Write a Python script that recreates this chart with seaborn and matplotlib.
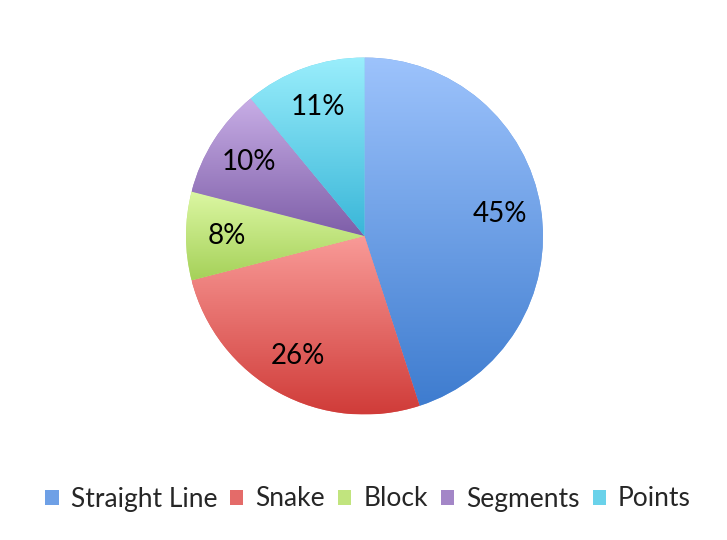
import numpy as np
import matplotlib
matplotlib.use("Agg")
import matplotlib.pyplot as plt
from matplotlib.colors import LinearSegmentedColormap, to_rgb
from matplotlib.patches import Patch
import seaborn as sns

# ---- data ----
labels = ["Straight Line", "Snake", "Block", "Segments", "Points"]
shares = [45, 26, 8, 10, 11]

# light (top) and dark (bottom) ends of each slice gradient
top_colors = ["#9dc3fc", "#f99b98", "#dcf7a3", "#c8aee6", "#9aeefc"]
bottom_colors = ["#3e7ccf", "#d03c39", "#a5d159", "#7e5ea8", "#39b6d8"]

sns.set_theme(style="white")
plt.rcParams["font.family"] = ["Lato", "DejaVu Sans"]

W, H = 727, 540
fig = plt.figure(figsize=(W / 100, H / 100), dpi=100)
fig.patch.set_facecolor("white")

# pie centre and radius in pixels
cx, cy, rad = 364.5, 236, 178.5
ax = fig.add_axes([(cx - rad) / W, (H - cy - rad) / H, 2 * rad / W, 2 * rad / H])

mid_colors = [
    tuple((np.array(to_rgb(t)) + np.array(to_rgb(b))) / 2)
    for t, b in zip(top_colors, bottom_colors)
]

wedges, texts, autotexts = ax.pie(
    shares,
    startangle=90,
    counterclock=False,
    colors=mid_colors,
    autopct=lambda p: f"{p:.0f}%",
    pctdistance=0.77,
    textprops=dict(fontsize=20, color="black"),
    wedgeprops=dict(linewidth=0),
)

# vertical gradient fill, clipped to each wedge's own bounding box
grad = np.linspace(0, 1, 256).reshape(-1, 1)
for w, top, bot in zip(wedges, top_colors, bottom_colors):
    ang = np.radians(np.linspace(w.theta1, w.theta2, 200))
    xs = np.append(w.r * np.cos(ang), w.center[0])
    ys = np.append(w.r * np.sin(ang), w.center[1])
    cmap = LinearSegmentedColormap.from_list("g", [bot, top])
    im = ax.imshow(grad, extent=(xs.min(), xs.max(), ys.min(), ys.max()),
                   origin="lower", cmap=cmap, aspect="auto", zorder=2)
    im.set_clip_path(w)

for t in autotexts:
    t.set_zorder(5)

ax.set_xlim(-1, 1)
ax.set_ylim(-1, 1)
ax.set_aspect("equal")
ax.axis("off")

handles = [Patch(facecolor=c, edgecolor="none") for c in mid_colors]
fig.legend(
    handles, labels,
    loc="center",
    bbox_to_anchor=(368 / W, 1 - 499 / H),
    ncol=5,
    frameon=False,
    fontsize=19,
    handlelength=0.5,
    handleheight=0.5,
    handletextpad=0.45,
    columnspacing=0.5,
)

fig.savefig("out.png", dpi=100)
plt.close(fig)
